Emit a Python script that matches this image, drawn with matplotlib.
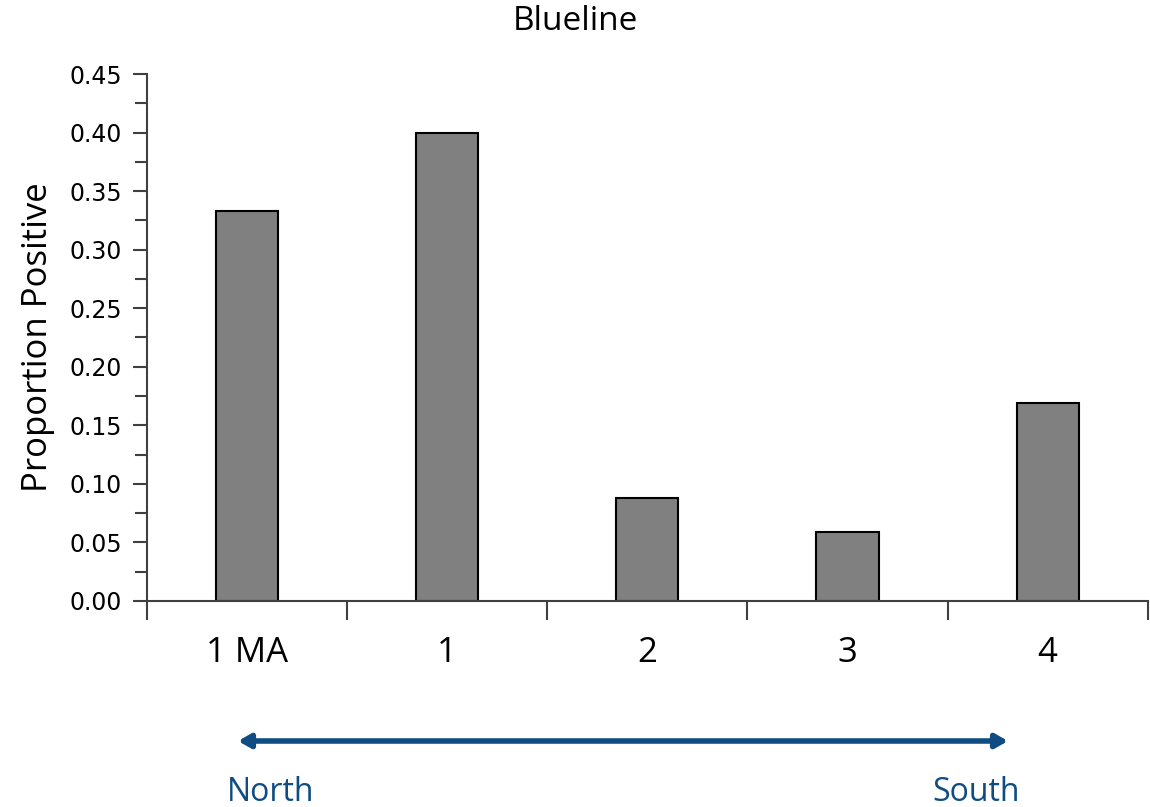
import matplotlib.pyplot as plt
from matplotlib.ticker import MultipleLocator, FixedLocator

# proportion of positive samples per site, north to south
sites = ['1 MA', '1', '2', '3', '4']
proportion = [0.333, 0.400, 0.088, 0.059, 0.169]

fig = plt.figure(figsize=(11.5, 8.07), dpi=100)
ax = fig.add_axes([0.1278, 0.2553, 0.8702, 0.6530])

x = range(len(sites))
ax.bar(x, proportion, width=0.31, color='#808080', edgecolor='black', linewidth=1.5)

ax.set_xlim(-0.5, len(sites) - 0.5)
ax.set_ylim(0, 0.45)
ax.yaxis.set_major_locator(MultipleLocator(0.05))
ax.yaxis.set_minor_locator(MultipleLocator(0.025))
ax.yaxis.set_major_formatter(lambda v, p: f'{v:.2f}')

# category ticks sit between the bars, labels under the bars
ax.set_xticks([i - 0.5 for i in range(len(sites) + 1)])
ax.set_xticklabels([])
ax.xaxis.set_minor_locator(FixedLocator(list(x)))
ax.set_xticklabels(sites, minor=True, fontsize=25, family='Open Sans')
ax.tick_params(axis='x', which='major', length=14, width=1.5, color='#404040')
ax.tick_params(axis='x', which='minor', length=0, pad=25)
ax.tick_params(axis='y', which='major', length=10, width=1.5, color='#404040',
               labelsize=17, pad=8)
ax.tick_params(axis='y', which='minor', length=9, width=1.5, color='#404040')

for side in ['top', 'right']:
    ax.spines[side].set_visible(False)
ax.spines['left'].set_color('#404040')
ax.spines['bottom'].set_color('#404040')
ax.spines['left'].set_linewidth(1.5)
ax.spines['bottom'].set_linewidth(1.5)

ax.set_ylabel('Proportion Positive', fontsize=25, family='Open Sans', labelpad=10)
# title centred on the whole figure
fig.text(0.5, 1 - 22 / 807, 'Blueline', fontsize=24, family='Open Sans',
         ha='center', va='center')

# north-south direction arrow under the axis
blue = '#0F4C81'
ax.annotate('', xy=(1008 / 1150, 66 / 807), xytext=(238 / 1150, 66 / 807),
            xycoords='figure fraction', textcoords='figure fraction',
            arrowprops=dict(arrowstyle='<|-|>,head_length=0.7,head_width=0.4',
                            color=blue, lw=4, shrinkA=0, shrinkB=0))
fig.text(271 / 1150, 6 / 807, 'North', color=blue, fontsize=23,
         family='Open Sans', ha='center', va='baseline')
fig.text(976 / 1150, 6 / 807, 'South', color=blue, fontsize=23,
         family='Open Sans', ha='center', va='baseline')

fig.savefig('out.png', dpi=100)
